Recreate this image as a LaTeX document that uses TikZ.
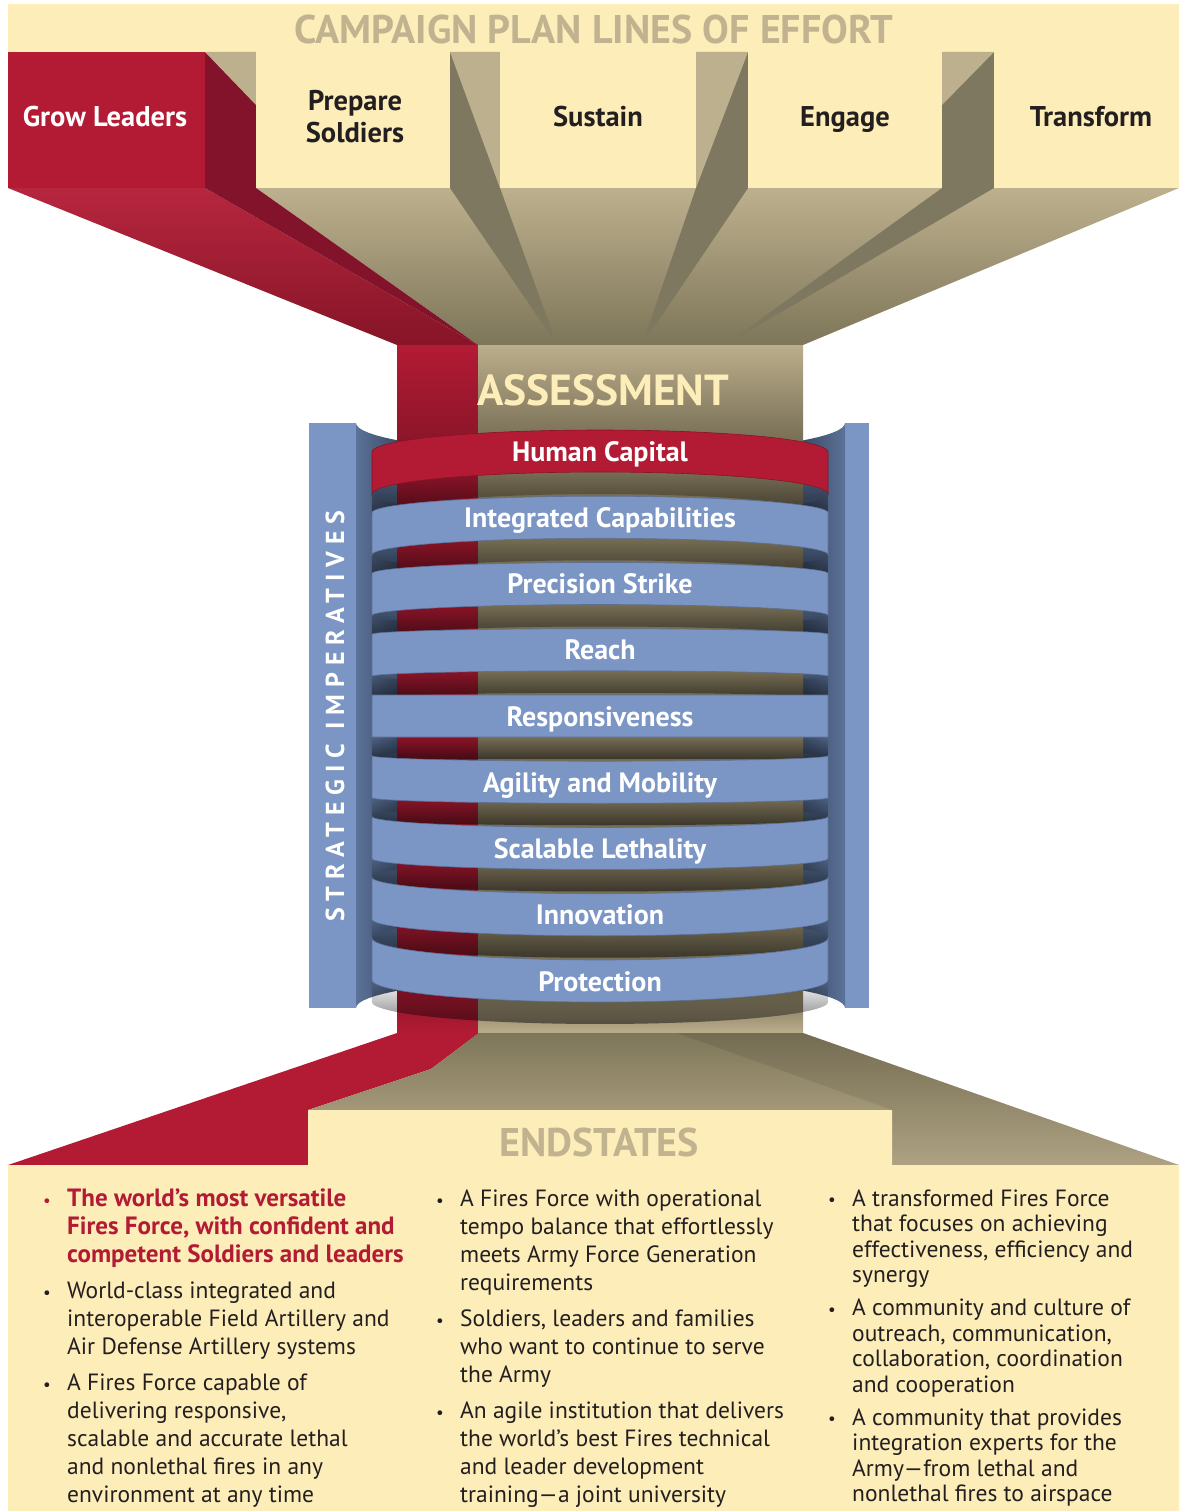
\documentclass[tikz,border=0pt]{standalone}
\usepackage{fontspec}
\setmainfont{PT Sans}
\usetikzlibrary{positioning,fadings}

\definecolor{effortyellow}{HTML}{FDEDB9}
\definecolor{headtan}{HTML}{C1B38F}
\definecolor{funneltan}{HTML}{BDB08E}
\definecolor{funneldark}{HTML}{7E7659}
\definecolor{olive}{HTML}{7F7860}
\definecolor{leadred}{HTML}{B31B34}
\definecolor{leaddark}{HTML}{82132A}
\definecolor{ringblue}{HTML}{7B96C5}
\definecolor{ringslate}{HTML}{4A5D7C}
\definecolor{slatelight}{HTML}{5C7298}
\definecolor{slatedark}{HTML}{3D4E6A}
\definecolor{coltan}{HTML}{BBAE8C}
\definecolor{cololive}{HTML}{776E55}
\definecolor{colred}{HTML}{8C1529}
\definecolor{inktext}{HTML}{231F20}

\pgfdeclarehorizontalshading{backdrop}{100bp}{color(0bp)=(slatelight); color(25bp)=(slatelight); color(29bp)=(slatedark); color(71bp)=(slatedark); color(75bp)=(slatelight); color(100bp)=(slatelight)}
\pgfdeclareverticalshading{columntan}{100bp}{color(0bp)=(coltan); color(25bp)=(coltan); color(28bp)=(cololive); color(68bp)=(cololive); color(75bp)=(coltan); color(100bp)=(coltan)}
\pgfdeclareverticalshading{columnred}{100bp}{color(0bp)=(leadred); color(25bp)=(leadred); color(28bp)=(colred); color(68bp)=(colred); color(75bp)=(leadred); color(100bp)=(leadred)}

\newcommand\hlitem[1]{{\color{leadred}\fontsize{25}{28}\selectfont\bfseries #1}}
\newcommand\bul{\raisebox{0.5pt}{\fontsize{17}{17}\selectfont\textbullet}}

\tikzset{
  lineofeffort/.style={font=\fontsize{28.5}{32}\selectfont\bfseries, text=inktext, align=center, inner sep=0pt},
  headline/.style={font=\fontsize{40}{44}\selectfont\bfseries, text=headtan, inner sep=0pt},
  ringlabel/.style={font=\fontsize{28}{30}\selectfont\bfseries, text=white, inner sep=0pt, anchor=base},
  endlist/.style={font=\fontsize{23.5}{28}\selectfont, text=inktext, inner sep=0pt, anchor=north west},
}

\begin{document}
\begin{tikzpicture}[x=1pt, y=-1pt]
  \useasboundingbox (0,0) rectangle (1179,1511);

  % campaign plan banner
  \fill[effortyellow] (8,4) rectangle (1179,52);
  \node[headline] (campaign) at (594,30) {CAMPAIGN PLAN LINES OF EFFORT};

  % funnel into the column
  \shade[top color=funneltan, bottom color=funneldark] (256,188) -- (1179,188) -- (803,345) -- (478,345) -- cycle;
  \shade[top color=leadred!95!white, bottom color=leadred!75!black] (8,188) -- (205,188) -- (478,345) -- (397,345) -- cycle;
  \fill[leaddark] (205,188) -- (256,188) -- (478,345) -- cycle;
  \fill[olive] (450,188) -- (500,188) -- (557,345) -- cycle;
  \fill[olive] (696,188) -- (748,188) -- (642,345) -- cycle;
  \fill[olive] (942,188) -- (994,188) -- (725,345) -- cycle;

  % lines of effort
  \fill[leadred] (8,52) rectangle (205,188);
  \fill[leaddark] (205,52) rectangle (256,188);
  \fill[funneltan] (205,52) -- (256,52) -- (256,105) -- cycle;
  \fill[olive] (450,52) rectangle (500,188);
  \fill[funneltan] (450,52) -- (500,52) -- (500,188) -- cycle;
  \fill[olive] (696,52) rectangle (748,188);
  \fill[funneltan] (696,52) -- (748,52) -- (696,188) -- cycle;
  \fill[olive] (942,52) rectangle (994,188);
  \fill[funneltan] (942,52) -- (994,52) -- (942,105) -- cycle;
  \foreach \xa/\xb in {256/450, 500/696, 748/942, 994/1179}
    \fill[effortyellow] (\xa,52) rectangle (\xb,188);

  \node[lineofeffort, text=white, anchor=base] (grow) at (105,127) {Grow Leaders};
  \node[lineofeffort] (prepare) at (355,117) {Prepare\\Soldiers};
  \node[lineofeffort, anchor=base] (sustain) at (598,127) {Sustain};
  \node[lineofeffort, anchor=base] (engage) at (845,127) {Engage};
  \node[lineofeffort, anchor=base] (transform) at (1091,127) {Transform};

  % strategic imperatives backdrop
  \fill[ringblue] (309,423) rectangle (356,1008);
  \fill[ringblue] (845,423) rectangle (869,1008);
  \shade[shading=backdrop] (356,423)
    -- plot[domain=180:0, samples=40] ({600.5+244.5*cos(\x)}, {423+31*sin(\x)})
    -- (845,1008)
    -- plot[domain=360:180, samples=40] ({600.5+244.5*cos(\x)}, {1008+31*sin(\x)})
    -- cycle;
  \node[rotate=90, font=\fontsize{26}{28}\selectfont\bfseries\addfontfeature{LetterSpace=26.5}, text=white] (imperatives) at (335,716) {STRATEGIC\hspace{14pt}IMPERATIVES};

  % inside of the rings
  \foreach \i in {0,...,8}{
    \pgfmathsetmacro\sg{5.5*(4-\i)}
    \pgfmathsetmacro\yt{430+66.25*\i+\sg}
    \pgfmathsetmacro\rb{max(abs(\sg),0.5)}
    \fill[ringslate] (600,\yt) ellipse [x radius=228pt, y radius=\rb pt];
    \fill[ringslate] (600,{\yt+42}) ellipse [x radius=228pt, y radius=\rb pt];
    \fill[ringslate] (372,\yt) rectangle (828,{\yt+42});
  }

  % assessment column
  \shade[shading=columnred] (397,345) rectangle (478,1033);
  \shade[shading=columntan] (478,345) rectangle (803,1033);
  \node[font=\fontsize{43.5}{48}\selectfont\bfseries, text=effortyellow, anchor=base west, inner sep=0pt] (assessment) at (477,405) {ASSESSMENT};

  % shadows under the rings
  \foreach \i in {0,...,8}{
    \pgfmathsetmacro\sg{5.5*(4-\i)}
    \pgfmathsetmacro\yt{430+66.25*\i+\sg}
    \fill[black, opacity=0.5, path fading=north]
      plot[domain=180:360, samples=40] ({600+228*cos(\x)}, {\yt+42+\sg*sin(\x)})
      -- plot[domain=360:180, samples=40] ({600+228*cos(\x)}, {\yt+64+\sg*sin(\x)})
      -- cycle;
  }

  % rings of the strategic imperatives
  \foreach \lbl/\ringcol [count=\i from 0] in {Human Capital/leadred, Integrated Capabilities/ringblue,
      Precision Strike/ringblue, Reach/ringblue, Responsiveness/ringblue, Agility and Mobility/ringblue,
      Scalable Lethality/ringblue, Innovation/ringblue, Protection/ringblue}{
    \pgfmathsetmacro\sg{5.5*(4-\i)}
    \pgfmathsetmacro\yt{430+66.25*\i+\sg}
    \fill[\ringcol, draw=\ringcol!75!black, line width=0.6pt]
      plot[domain=180:360, samples=50] ({600+228*cos(\x)}, {\yt+\sg*sin(\x)})
      -- plot[domain=360:180, samples=50] ({600+228*cos(\x)}, {\yt+42+\sg*sin(\x)})
      -- cycle;
    \node[ringlabel] (ring\i) at (600,{461+66.25*\i}) {\lbl};
  }

  % funnel out to the endstates
  \fill[leadred] (397,1033) -- (479,1033) -- (431,1069) -- (308,1110) -- (308,1165) -- (8,1165) -- cycle;
  \shade[top color=funneldark, bottom color=funneltan] (479,1033) -- (803,1033) -- (1179,1165) -- (892,1165) -- (892,1110) -- (308,1110) -- (431,1069) -- cycle;
  \fill[black, opacity=0.08] (677,1033) -- (803,1033) -- (1179,1165) -- (892,1165) -- (892,1110) -- cycle;

  % endstates
  \fill[effortyellow] (308,1110) -- (892,1110) -- (892,1165) -- (1179,1165) -- (1179,1511) -- (8,1511) -- (8,1165) -- (308,1165) -- cycle;
  \node[headline] (endstates) at (599,1142) {ENDSTATES};

  \node[endlist] (leaders) at (43,1187) {\begin{tabular}{@{}p{24pt}@{}l@{}}
    \textcolor{leadred}{\bul} & \hlitem{The world’s most versatile}\\
    & \hlitem{Fires Force, with confident and}\\
    & \hlitem{competent Soldiers and leaders}\\[8pt]
    \bul & World-class integrated and\\
    & interoperable Field Artillery and\\
    & Air Defense Artillery systems\\[8pt]
    \bul & A Fires Force capable of\\
    & delivering responsive,\\
    & scalable and accurate lethal\\
    & and nonlethal fires in any\\
    & environment at any time
  \end{tabular}};

  \node[endlist] (institution) at (436,1187) {\begin{tabular}{@{}p{24pt}@{}l@{}}
    \bul & A Fires Force with operational\\
    & tempo balance that effortlessly\\
    & meets Army Force Generation\\
    & requirements\\[8pt]
    \bul & Soldiers, leaders and families\\
    & who want to continue to serve\\
    & the Army\\[8pt]
    \bul & An agile institution that delivers\\
    & the world’s best Fires technical\\
    & and leader development\\
    & training---a joint university
  \end{tabular}};

  \node[endlist, font=\fontsize{23.5}{25.5}\selectfont] (community) at (828,1188) {\begin{tabular}{@{}p{24pt}@{}l@{}}
    \bul & A transformed Fires Force\\
    & that focuses on achieving\\
    & effectiveness, efficiency and\\
    & synergy\\[7.5pt]
    \bul & A community and culture of\\
    & outreach, communication,\\
    & collaboration, coordination\\
    & and cooperation\\[7.5pt]
    \bul & A community that provides\\
    & integration experts for the\\
    & Army---from lethal and\\
    & nonlethal fires to airspace
  \end{tabular}};
\end{tikzpicture}
\end{document}
